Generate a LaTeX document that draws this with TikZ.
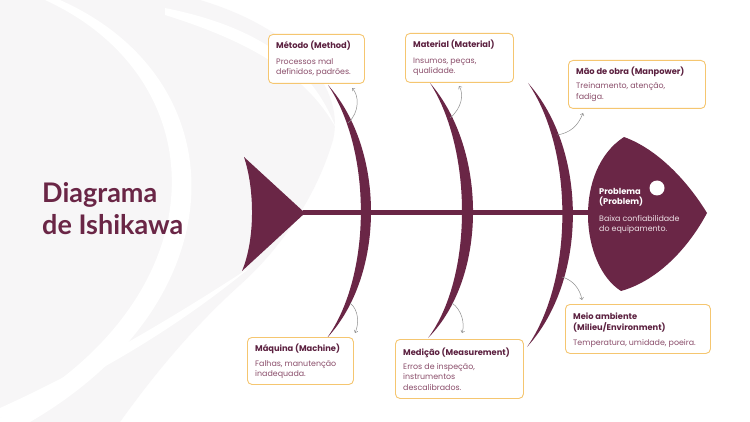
\documentclass[tikz,border=0pt]{standalone}
\usepackage{fontspec}
\setmainfont{Poppins}
\newfontfamily\titlefont{Lato}
\usetikzlibrary{arrows.meta}
\definecolor{fish}{HTML}{6A2646}
\definecolor{boxborder}{HTML}{F5C670}
\definecolor{ttlcol}{HTML}{5C2140}
\definecolor{bdycol}{HTML}{8A4D6A}
\definecolor{bgcol}{HTML}{F7F6F7}
\definecolor{arrcol}{HTML}{8E8E8E}
\definecolor{headtxt}{HTML}{EFE3E8}
\tikzset{
  bg/.style={fill=bgcol},
  gap/.style={fill=white},
  infobox/.style={draw=boxborder, line width=0.9pt, fill=white, rounded corners=4.5pt, anchor=north west, inner sep=0pt},
  ttl/.style={anchor=base west, inner sep=0pt, text=ttlcol, font=\bfseries\fontsize{8.3}{10.5}\selectfont},
  ttltwo/.style={anchor=north west, inner sep=0pt, align=left, text=ttlcol, font=\bfseries\fontsize{8.3}{10.5}\selectfont},
  bdy/.style={anchor=north west, inner sep=0pt, align=left, text=bdycol, font=\fontsize{7.9}{10.5}\selectfont},
  bone/.style={fill=fish},
  smallarrow/.style={draw=arrcol, line width=0.5pt, -{Straight Barb[length=2.2pt,width=4pt]}},
}
\newcommand{\st}{\rule{0pt}{6pt}}
\begin{document}
\begin{tikzpicture}[x=1pt,y=-1pt]
\useasboundingbox (0,0) rectangle (750,422);
\fill[white] (0,0) rectangle (750,422);
% background swooshes
\fill[bg] (0,0) -- (200,0) .. controls (300,30) and (345,90) .. (333,140) .. controls (320,185) and (290,240) .. (240,285) .. controls (190,330) and (150,380) .. (120,422) -- (0,422) -- cycle;
\fill[gap] (45,0) .. controls (220,80) and (222,300) .. (0,418) -- (0,422) -- (30,422) .. controls (240,300) and (240,80) .. (60,0) -- cycle;
\fill[gap] (165,8) .. controls (250,25) and (310,60) .. (336,128) .. controls (305,72) and (245,40) .. (165,15) -- cycle;
\fill[gap] (252,266) .. controls (170,320) and (80,372) .. (0,408) -- (0,418) .. controls (85,382) and (175,330) .. (252,266) -- cycle;
% spine
\coordinate (tailtip) at (303,213);
\coordinate (headleft) at (595,213);
\draw[fish, line width=5pt] (tailtip) -- (headleft);
% tail
\fill[fish] (305,213) -- (244,157) .. controls (255,190) and (255,240) .. (242,271) -- cycle;
% head
\fill[fish] (624,137) .. controls (660,150) and (690,185) .. (707,213) .. controls (690,245) and (660,280) .. (621,291) .. controls (580,265) and (573,170) .. (624,137) -- cycle;
\node[circle, fill=white, minimum size=15pt, inner sep=0pt] (dot) at (657,188) {};
% bones
\fill[bone] (328,85) .. controls (385.5,150) and (385.5,275) .. (327,338) .. controls (372,275) and (372,150) .. (328,85) -- cycle;
\fill[bone] (430,83) .. controls (487.7,150) and (487.7,278) .. (428,338) .. controls (473,278) and (473,150) .. (430,83) -- cycle;
\fill[bone] (528,83) .. controls (588,150) and (588,280) .. (527,347) .. controls (574,280) and (574,150) .. (528,83) -- cycle;
% head text
\node[anchor=north west, inner sep=0pt, align=left, text=white, font=\bfseries\fontsize{8.3}{10}\selectfont] (probttl) at (599,188.5) {\st Problema\\(Problem)};
\node[anchor=north west, inner sep=0pt, align=left, text=headtxt, font=\fontsize{7.9}{10.5}\selectfont] (probbdy) at (599,215) {\st Baixa confiabilidade\\do equipamento.};
% boxes
\node[infobox, minimum width=96pt, minimum height=49pt] (metbox) at (268,34) {};
\node[ttl] (metttl) at (276,49) {Método (Method)};
\node[bdy] (metbdy) at (276,58) {\st Processos mal\\definidos, padrões.};

\node[infobox, minimum width=108pt, minimum height=49pt] (matbox) at (405,33) {};
\node[ttl] (matttl) at (413,48) {Material (Material)};
\node[bdy] (matbdy) at (413,57) {\st Insumos, peças,\\qualidade.};

\node[infobox, minimum width=137pt, minimum height=48pt] (manbox) at (568,60) {};
\node[ttl] (manttl) at (576,74.5) {Mão de obra (Manpower)};
\node[bdy] (manbdy) at (576,82.5) {\st Treinamento, atenção,\\fadiga.};

\node[infobox, minimum width=106pt, minimum height=47pt] (maqbox) at (247,337) {};
\node[ttl] (maqttl) at (255,351) {Máquina (Machine)};
\node[bdy] (maqbdy) at (255,360) {\st Falhas, manutenção\\inadequada.};

\node[infobox, minimum width=128pt, minimum height=59pt] (medbox) at (395,339) {};
\node[ttl] (medttl) at (403,355) {Medição (Measurement)};
\node[bdy] (medbdy) at (403,363) {\st Erros de inspeção,\\instrumentos\\descalibrados.};

\node[infobox, minimum width=145pt, minimum height=49pt] (meibox) at (565,304) {};
\node[ttltwo] (meittl) at (573,313) {\st Meio ambiente\\(Milieu/Environment)};
\node[bdy] (meibdy) at (573,339) {\st Temperatura, umidade, poeira.};
% small arrows
\coordinate (a1s) at (348,123); \coordinate (a1e) at (352,88);
\coordinate (a2s) at (450,118); \coordinate (a2e) at (459,86);
\coordinate (a3s) at (557,135); \coordinate (a3e) at (583,113);
\coordinate (a4s) at (350,303); \coordinate (a4e) at (355,333);
\coordinate (a5s) at (452,303); \coordinate (a5e) at (462,333);
\coordinate (a6s) at (562,277); \coordinate (a6e) at (582,300);
\draw[smallarrow] (a1s) .. controls (360,112) and (359,95) .. (a1e);
\draw[smallarrow] (a2s) .. controls (462,108) and (464,94) .. (a2e);
\draw[smallarrow] (a3s) .. controls (570,133) and (578,126) .. (a3e);
\draw[smallarrow] (a4s) .. controls (359,310) and (359,324) .. (a4e);
\draw[smallarrow] (a5s) .. controls (462,310) and (465,324) .. (a5e);
\draw[smallarrow] (a6s) .. controls (573,280) and (580,289) .. (a6e);
% title
\node[anchor=base west, inner sep=0pt, text=fish, font=\titlefont\bfseries\fontsize{27}{32}\selectfont] (t1) at (42,203) {Diagrama};
\node[anchor=base west, inner sep=0pt, text=fish, font=\titlefont\bfseries\fontsize{27}{32}\selectfont] (t2) at (42,235) {de Ishikawa};
\end{tikzpicture}
\end{document}
